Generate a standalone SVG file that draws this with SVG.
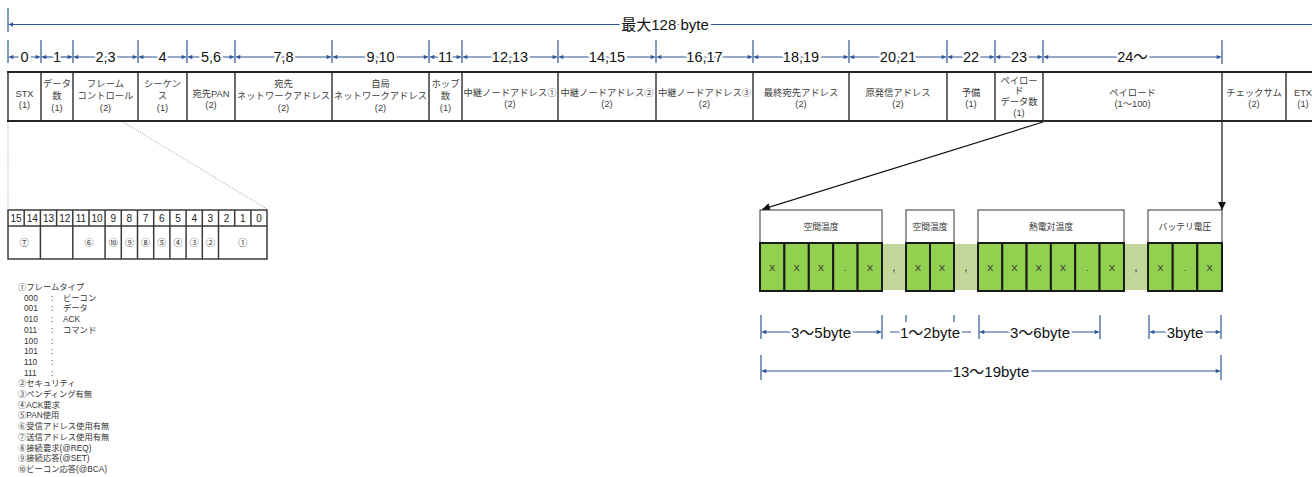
<svg xmlns="http://www.w3.org/2000/svg" width="1312" height="477" viewBox="0 0 1312 477">
<style>
text{font-family:"Liberation Sans","Noto Sans CJK JP",sans-serif;}
.dim{stroke:#2F5597;stroke-width:1.2;fill:none;}
.dl{stroke:#2F5597;stroke-width:1.2;fill:none;marker-start:url(#ab);marker-end:url(#ab);}
.hl{font-size:14.5px;fill:#111;text-anchor:middle;paint-order:stroke;stroke:#fff;stroke-width:5px;stroke-linejoin:round;}
.bl{font-size:15px;fill:#111;text-anchor:middle;paint-order:stroke;stroke:#fff;stroke-width:5px;stroke-linejoin:round;}
.ct{font-size:9.3px;fill:#404040;text-anchor:middle;}
.grid{stroke:#3a3a3a;stroke-width:1.5;fill:none;}
.edge{stroke:#262626;stroke-width:2.2;fill:none;}
.bt{font-size:10px;fill:#222;text-anchor:middle;}
.cn{font-size:9px;fill:#333;text-anchor:middle;}
.lg{font-size:8.3px;fill:#333;}
.dot{stroke:#999;stroke-width:1;stroke-dasharray:1 1.5;fill:none;}
.g{fill:#92D050;stroke:#1a1a1a;stroke-width:2;}
.lgc{fill:#C4D79B;stroke:none;}
.lb{fill:#fff;stroke:#333;stroke-width:1;}
.lbt{font-size:8.8px;fill:#333;text-anchor:middle;}
.x{font-size:9.5px;fill:#333;text-anchor:middle;}
.cm{font-size:12px;fill:#333;text-anchor:middle;}
.arr{stroke:#111;stroke-width:1.2;fill:none;marker-end:url(#ak);}
</style>
<defs>
<marker id="ab" viewBox="0 0 6 6" refX="6" refY="3" markerWidth="5" markerHeight="4.5" orient="auto-start-reverse" markerUnits="userSpaceOnUse"><path d="M0,0L6,3L0,6z" fill="#2F5597"/></marker>
<marker id="ak" viewBox="0 0 8 8" refX="8" refY="4" markerWidth="9" markerHeight="8" orient="auto" markerUnits="userSpaceOnUse"><path d="M0,0L8,4L0,8z" fill="#111"/></marker>
</defs>

<!-- Title dimension -->
<g id="title-dim">
<line class="dim" x1="8" y1="8" x2="8" y2="32"/>
<line class="dim" x1="8.6" y1="24.5" x2="1312" y2="24.5" style="marker-start:url(#ab)"/>
<text class="bl" x="665" y="30" style="font-size:15px">最大128 byte</text>
</g>

<!-- Byte offset header -->
<g id="offset-header">
<g class="dim">
<line x1="8" y1="40" x2="8" y2="63"/><line x1="41" y1="40" x2="41" y2="63"/><line x1="73" y1="40" x2="73" y2="63"/><line x1="138" y1="40" x2="138" y2="63"/><line x1="187" y1="40" x2="187" y2="63"/><line x1="235" y1="40" x2="235" y2="63"/><line x1="332" y1="40" x2="332" y2="63"/><line x1="429" y1="40" x2="429" y2="63"/><line x1="462" y1="40" x2="462" y2="63"/><line x1="558" y1="40" x2="558" y2="63"/><line x1="656" y1="40" x2="656" y2="63"/><line x1="753" y1="40" x2="753" y2="63"/><line x1="849" y1="40" x2="849" y2="63"/><line x1="947" y1="40" x2="947" y2="63"/><line x1="995" y1="40" x2="995" y2="63"/><line x1="1043" y1="40" x2="1043" y2="63"/><line x1="1222" y1="40" x2="1222" y2="64"/>
</g>
<line class="dl" x1="8.8" y1="57" x2="40.2" y2="57"/>
<line class="dl" x1="41.8" y1="57" x2="72.2" y2="57"/>
<line class="dl" x1="73.8" y1="57" x2="137.2" y2="57"/>
<line class="dl" x1="138.8" y1="57" x2="186.2" y2="57"/>
<line class="dl" x1="187.8" y1="57" x2="234.2" y2="57"/>
<line class="dl" x1="235.8" y1="57" x2="331.2" y2="57"/>
<line class="dl" x1="332.8" y1="57" x2="428.2" y2="57"/>
<line class="dl" x1="429.8" y1="57" x2="461.2" y2="57"/>
<line class="dl" x1="462.8" y1="57" x2="557.2" y2="57"/>
<line class="dl" x1="558.8" y1="57" x2="655.2" y2="57"/>
<line class="dl" x1="656.8" y1="57" x2="752.2" y2="57"/>
<line class="dl" x1="753.8" y1="57" x2="848.2" y2="57"/>
<line class="dl" x1="849.8" y1="57" x2="946.2" y2="57"/>
<line class="dl" x1="947.8" y1="57" x2="994.2" y2="57"/>
<line class="dl" x1="995.8" y1="57" x2="1042.2" y2="57"/>
<line class="dl" x1="1043.8" y1="57" x2="1221.2" y2="57"/>
<text class="hl" x="24.5" y="62">0</text>
<text class="hl" x="57" y="62">1</text>
<text class="hl" x="105.5" y="62">2,3</text>
<text class="hl" x="162.5" y="62">4</text>
<text class="hl" x="211" y="62">5,6</text>
<text class="hl" x="283.5" y="62">7,8</text>
<text class="hl" x="380.5" y="62">9,10</text>
<text class="hl" x="445.5" y="62">11</text>
<text class="hl" x="510" y="62">12,13</text>
<text class="hl" x="607" y="62">14,15</text>
<text class="hl" x="704.5" y="62">16,17</text>
<text class="hl" x="801" y="62">18,19</text>
<text class="hl" x="898" y="62">20,21</text>
<text class="hl" x="971" y="62">22</text>
<text class="hl" x="1019" y="62">23</text>
<text class="hl" x="1132.5" y="62">24〜</text>
</g>

<!-- Frame table -->
<g id="frame-table">
<g id="cell-stx"><text class="ct" x="24.5" y="96.5">STX</text><text class="ct" x="24.5" y="107.5">(1)</text></g>
<g id="cell-datacount"><text class="ct" x="57" y="87">データ</text><text class="ct" x="57" y="98.5">数</text><text class="ct" x="57" y="110.5">(1)</text></g>
<g id="cell-framecontrol"><text class="ct" x="105.5" y="87">フレーム</text><text class="ct" x="105.5" y="98.5">コントロール</text><text class="ct" x="105.5" y="110.5">(2)</text></g>
<g id="cell-sequence"><text class="ct" x="162.5" y="87">シーケン</text><text class="ct" x="162.5" y="98.5">ス</text><text class="ct" x="162.5" y="110.5">(1)</text></g>
<g id="cell-destpan"><text class="ct" x="211" y="96.5">宛先PAN</text><text class="ct" x="211" y="107.5">(2)</text></g>
<g id="cell-destaddr"><text class="ct" x="283.5" y="87">宛先</text><text class="ct" x="283.5" y="98.5">ネットワークアドレス</text><text class="ct" x="283.5" y="110.5">(2)</text></g>
<g id="cell-ownaddr"><text class="ct" x="380.5" y="87">自局</text><text class="ct" x="380.5" y="98.5">ネットワークアドレス</text><text class="ct" x="380.5" y="110.5">(2)</text></g>
<g id="cell-hop"><text class="ct" x="445.5" y="87">ホップ</text><text class="ct" x="445.5" y="98.5">数</text><text class="ct" x="445.5" y="110.5">(1)</text></g>
<g id="cell-relay1"><text class="ct" x="510" y="95.5">中継ノードアドレス①</text><text class="ct" x="510" y="107">(2)</text></g>
<g id="cell-relay2"><text class="ct" x="607" y="95.5">中継ノードアドレス②</text><text class="ct" x="607" y="107">(2)</text></g>
<g id="cell-relay3"><text class="ct" x="704.5" y="95.5">中継ノードアドレス③</text><text class="ct" x="704.5" y="107">(2)</text></g>
<g id="cell-finaldest"><text class="ct" x="801" y="95.5">最終宛先アドレス</text><text class="ct" x="801" y="107">(2)</text></g>
<g id="cell-origin"><text class="ct" x="898" y="95.5">原発信アドレス</text><text class="ct" x="898" y="107">(2)</text></g>
<g id="cell-reserve"><text class="ct" x="971" y="95.5">予備</text><text class="ct" x="971" y="107">(1)</text></g>
<g id="cell-payloadcount"><text class="ct" x="1019" y="83.5">ペイロー</text><text class="ct" x="1019" y="94">ド</text><text class="ct" x="1019" y="105">データ数</text><text class="ct" x="1019" y="115.5">(1)</text></g>
<g id="cell-payload"><text class="ct" x="1132.5" y="95.5">ペイロード</text><text class="ct" x="1132.5" y="107">(1〜100)</text></g>
<g id="cell-checksum"><text class="ct" x="1254" y="95.5">チェックサム</text><text class="ct" x="1254" y="107">(2)</text></g>
<g id="cell-etx"><text class="ct" x="1303" y="95.5">ETX</text><text class="ct" x="1303" y="107">(1)</text></g>
<g class="grid">
<line x1="8" y1="72" x2="8" y2="121"/><line x1="41" y1="72" x2="41" y2="121"/><line x1="73" y1="72" x2="73" y2="121"/><line x1="138" y1="72" x2="138" y2="121"/><line x1="187" y1="72" x2="187" y2="121"/><line x1="235" y1="72" x2="235" y2="121"/><line x1="332" y1="72" x2="332" y2="121"/><line x1="429" y1="72" x2="429" y2="121"/><line x1="462" y1="72" x2="462" y2="121"/><line x1="558" y1="72" x2="558" y2="121"/><line x1="656" y1="72" x2="656" y2="121"/><line x1="753" y1="72" x2="753" y2="121"/><line x1="849" y1="72" x2="849" y2="121"/><line x1="947" y1="72" x2="947" y2="121"/><line x1="995" y1="72" x2="995" y2="121"/><line x1="1043" y1="72" x2="1043" y2="121"/><line x1="1286" y1="72" x2="1286" y2="121"/>
<line x1="1222" y1="72" x2="1222" y2="121" style="stroke:#111;stroke-width:1.2"/>
</g>
<line class="edge" x1="7" y1="72" x2="1312" y2="72"/>
<line class="edge" x1="7" y1="121" x2="1312" y2="121"/>
</g>

<!-- Connectors -->
<g id="connectors">
<line class="dot" x1="8" y1="122" x2="8" y2="209"/>
<line class="dot" x1="123" y1="122" x2="267" y2="209"/>
<line class="arr" x1="1043" y1="122" x2="762" y2="209.5"/>
<line class="arr" x1="1222" y1="122" x2="1222" y2="210"/>
</g>

<!-- Bit table -->
<g id="bit-table">
<g class="grid">
<rect x="8" y="210" width="259" height="49"/>
<line x1="8" y1="226" x2="267" y2="226"/>
<line x1="24.2" y1="210" x2="24.2" y2="226"/><line x1="40.4" y1="210" x2="40.4" y2="259"/><line x1="56.6" y1="210" x2="56.6" y2="226"/><line x1="72.8" y1="210" x2="72.8" y2="259"/><line x1="89" y1="210" x2="89" y2="226"/><line x1="105.1" y1="210" x2="105.1" y2="259"/><line x1="121.3" y1="210" x2="121.3" y2="259"/><line x1="137.5" y1="210" x2="137.5" y2="259"/><line x1="153.7" y1="210" x2="153.7" y2="259"/><line x1="169.9" y1="210" x2="169.9" y2="259"/><line x1="186.1" y1="210" x2="186.1" y2="259"/><line x1="202.3" y1="210" x2="202.3" y2="259"/><line x1="218.5" y1="210" x2="218.5" y2="259"/><line x1="234.7" y1="210" x2="234.7" y2="226"/><line x1="250.9" y1="210" x2="250.9" y2="226"/>
</g>
<text class="bt" x="16.1" y="221.6">15</text><text class="bt" x="32.3" y="221.6">14</text><text class="bt" x="48.5" y="221.6">13</text><text class="bt" x="64.7" y="221.6">12</text><text class="bt" x="80.9" y="221.6">11</text><text class="bt" x="97.1" y="221.6">10</text><text class="bt" x="113.2" y="221.6">9</text><text class="bt" x="129.4" y="221.6">8</text><text class="bt" x="145.6" y="221.6">7</text><text class="bt" x="161.8" y="221.6">6</text><text class="bt" x="178" y="221.6">5</text><text class="bt" x="194.2" y="221.6">4</text><text class="bt" x="210.4" y="221.6">3</text><text class="bt" x="226.6" y="221.6">2</text><text class="bt" x="242.8" y="221.6">1</text><text class="bt" x="259" y="221.6">0</text>
<text class="cn" x="24.2" y="245.5">⑦</text>
<text class="cn" x="89" y="245.5">⑥</text>
<text class="cn" x="113.2" y="245.5">⑩</text>
<text class="cn" x="129.4" y="245.5">⑨</text>
<text class="cn" x="145.6" y="245.5">⑧</text>
<text class="cn" x="161.8" y="245.5">⑤</text>
<text class="cn" x="178" y="245.5">④</text>
<text class="cn" x="194.2" y="245.5">③</text>
<text class="cn" x="210.4" y="245.5">②</text>
<text class="cn" x="242.8" y="245.5">①</text>
</g>

<!-- Legend -->
<g id="legend">
<text class="lg" x="18" y="290">①フレームタイプ</text>
<text class="lg" x="24" y="300.7">000</text><text class="lg" x="51" y="300.7">:</text><text class="lg" x="63" y="300.7">ビーコン</text>
<text class="lg" x="24" y="311.4">001</text><text class="lg" x="51" y="311.4">:</text><text class="lg" x="63" y="311.4">データ</text>
<text class="lg" x="24" y="322.1">010</text><text class="lg" x="51" y="322.1">:</text><text class="lg" x="63" y="322.1">ACK</text>
<text class="lg" x="24" y="332.8">011</text><text class="lg" x="51" y="332.8">:</text><text class="lg" x="63" y="332.8">コマンド</text>
<text class="lg" x="24" y="343.5">100</text><text class="lg" x="51" y="343.5">:</text>
<text class="lg" x="24" y="354.2">101</text><text class="lg" x="51" y="354.2">:</text>
<text class="lg" x="24" y="364.9">110</text><text class="lg" x="51" y="364.9">:</text>
<text class="lg" x="24" y="375.6">111</text><text class="lg" x="51" y="375.6">:</text>
<text class="lg" x="18" y="386.3">②セキュリティ</text>
<text class="lg" x="18" y="397">③ペンディング有無</text>
<text class="lg" x="18" y="407.7">④ACK要求</text>
<text class="lg" x="18" y="418.4">⑤PAN使用</text>
<text class="lg" x="18" y="429.1">⑥受信アドレス使用有無</text>
<text class="lg" x="18" y="439.8">⑦送信アドレス使用有無</text>
<text class="lg" x="18" y="450.5">⑧接続要求(@REQ)</text>
<text class="lg" x="18" y="461.2">⑨接続応答(@SET)</text>
<text class="lg" x="18" y="471.9">⑩ビーコン応答(@BCA)</text>
</g>

<!-- Payload breakdown -->
<g id="payload-room-temp1">
<rect class="lb" x="760" y="210" width="122" height="33"/>
<text class="lbt" x="821" y="230">空間温度</text>
<rect class="g" x="760" y="243" width="24.4" height="48"/><rect class="g" x="784.4" y="243" width="24.4" height="48"/><rect class="g" x="808.8" y="243" width="24.4" height="48"/><rect class="g" x="833.2" y="243" width="24.4" height="48"/><rect class="g" x="857.6" y="243" width="24.4" height="48"/>
<text class="x" x="772.2" y="270.5">X</text><text class="x" x="796.6" y="270.5">X</text><text class="x" x="821" y="270.5">X</text><text class="x" x="845.4" y="270.5">.</text><text class="x" x="869.8" y="270.5">X</text>
</g>
<g id="sep1"><rect class="lgc" x="883" y="244" width="22" height="46"/><text class="cm" x="894" y="271">,</text></g>
<g id="payload-room-temp2">
<rect class="lb" x="906" y="210" width="48" height="33"/>
<text class="lbt" x="930" y="230">空間温度</text>
<rect class="g" x="906" y="243" width="24" height="48"/><rect class="g" x="930" y="243" width="24" height="48"/>
<text class="x" x="918" y="270.5">X</text><text class="x" x="942" y="270.5">X</text>
</g>
<g id="sep2"><rect class="lgc" x="955" y="244" width="22" height="46"/><text class="cm" x="966" y="271">,</text></g>
<g id="payload-thermocouple">
<rect class="lb" x="978" y="210" width="146" height="33"/>
<text class="lbt" x="1051" y="230">熱電対温度</text>
<rect class="g" x="978" y="243" width="24.3" height="48"/><rect class="g" x="1002.3" y="243" width="24.3" height="48"/><rect class="g" x="1026.6" y="243" width="24.3" height="48"/><rect class="g" x="1050.9" y="243" width="24.3" height="48"/><rect class="g" x="1075.2" y="243" width="24.4" height="48"/><rect class="g" x="1099.6" y="243" width="24.4" height="48"/>
<text class="x" x="990.1" y="270.5">X</text><text class="x" x="1014.4" y="270.5">X</text><text class="x" x="1038.7" y="270.5">X</text><text class="x" x="1063" y="270.5">X</text><text class="x" x="1087.4" y="270.5">.</text><text class="x" x="1111.8" y="270.5">X</text>
</g>
<g id="sep3"><rect class="lgc" x="1125" y="244" width="22" height="46"/><text class="cm" x="1136" y="271">,</text></g>
<g id="payload-battery">
<rect class="lb" x="1148" y="210" width="74" height="33"/>
<text class="lbt" x="1185" y="230">バッテリ電圧</text>
<rect class="g" x="1148" y="243" width="24.7" height="48"/><rect class="g" x="1172.7" y="243" width="24.6" height="48"/><rect class="g" x="1197.3" y="243" width="24.7" height="48"/>
<text class="x" x="1160.3" y="270.5">X</text><text class="x" x="1185" y="270.5">.</text><text class="x" x="1209.6" y="270.5">X</text>
</g>

<!-- Byte size dimensions -->
<g id="byte-dims">
<g class="dim">
<line x1="761" y1="315" x2="761" y2="339"/><line x1="882" y1="315" x2="882" y2="339"/><line x1="979" y1="315" x2="979" y2="339"/><line x1="1100" y1="315" x2="1100" y2="339"/><line x1="1149" y1="315" x2="1149" y2="339"/><line x1="1221" y1="315" x2="1221" y2="339"/>
<line x1="906" y1="315" x2="906" y2="322"/><line x1="954" y1="315" x2="954" y2="322"/>
<line x1="890" y1="332" x2="971" y2="332"/>
<line x1="761" y1="355" x2="761" y2="380"/><line x1="1221" y1="355" x2="1221" y2="380"/>
</g>
<line class="dl" x1="761.8" y1="332" x2="881.2" y2="332"/>
<line class="dl" x1="979.8" y1="332" x2="1099.2" y2="332"/>
<line class="dl" x1="1149.8" y1="332" x2="1220.2" y2="332"/>
<line class="dl" x1="761.8" y1="371" x2="1220.2" y2="371"/>
<text class="bl" x="821" y="337.5">3〜5byte</text>
<text class="bl" x="930" y="337.5">1〜2byte</text>
<text class="bl" x="1040" y="337.5">3〜6byte</text>
<text class="bl" x="1185" y="337.5">3byte</text>
<text class="bl" x="991" y="376.5">13〜19byte</text>
</g>
</svg>
